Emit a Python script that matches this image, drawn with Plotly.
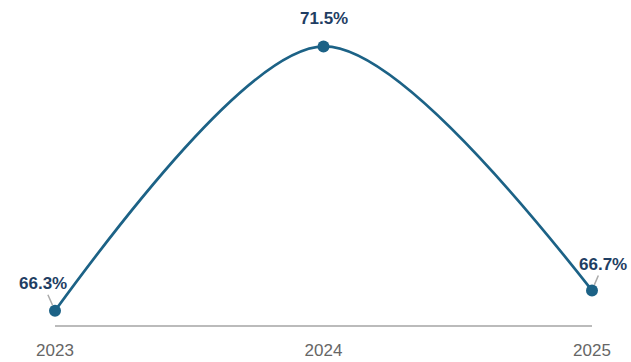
import plotly.graph_objects as go

years = [2023, 2024, 2025]
rates = [66.3, 71.5, 66.7]
labels = [f"{v:.1f}%" for v in rates]

line_color = "#1c6286"
label_color = "#1f3e63"
font_family = "Liberation Sans, Arial, sans-serif"

fig = go.Figure()
fig.add_trace(go.Scatter(
    x=years, y=rates,
    mode="lines+markers",
    line=dict(color=line_color, width=2.7, shape="spline", smoothing=0.85),
    marker=dict(color=line_color, size=12),
    cliponaxis=False,
    hoverinfo="skip",
))

# value labels; the end points get short grey leader lines
offsets = [(-12, -27, True), (0, -28, False), (11, -26, True)]
for x, y, txt, (ax, ay, arrow) in zip(years, rates, labels, offsets):
    fig.add_annotation(
        x=x, y=y, text=f"<b>{txt}</b>",
        showarrow=True, ax=ax, ay=ay,
        arrowhead=0, arrowwidth=1.5, standoff=6,
        arrowcolor="#aaaaaa" if arrow else "rgba(0,0,0,0)",
        font=dict(size=17, color=label_color, family=font_family),
    )

fig.update_layout(
    width=631, height=362,
    margin=dict(l=55, r=39, t=20, b=37),
    paper_bgcolor="white", plot_bgcolor="white",
    showlegend=False,
    font=dict(family=font_family),
)
fig.update_xaxes(
    range=[2023, 2025], tickvals=years, ticktext=[str(y) for y in years],
    showgrid=False, zeroline=False, automargin=False,
    showline=True, linecolor="#bbbbbb", linewidth=1.5,
    ticks="", ticklabelstandoff=9,
    tickfont=dict(size=17, color="#666666"),
)
fig.update_yaxes(range=[66.02, 72.02], visible=False)

fig.write_html("out.html")
